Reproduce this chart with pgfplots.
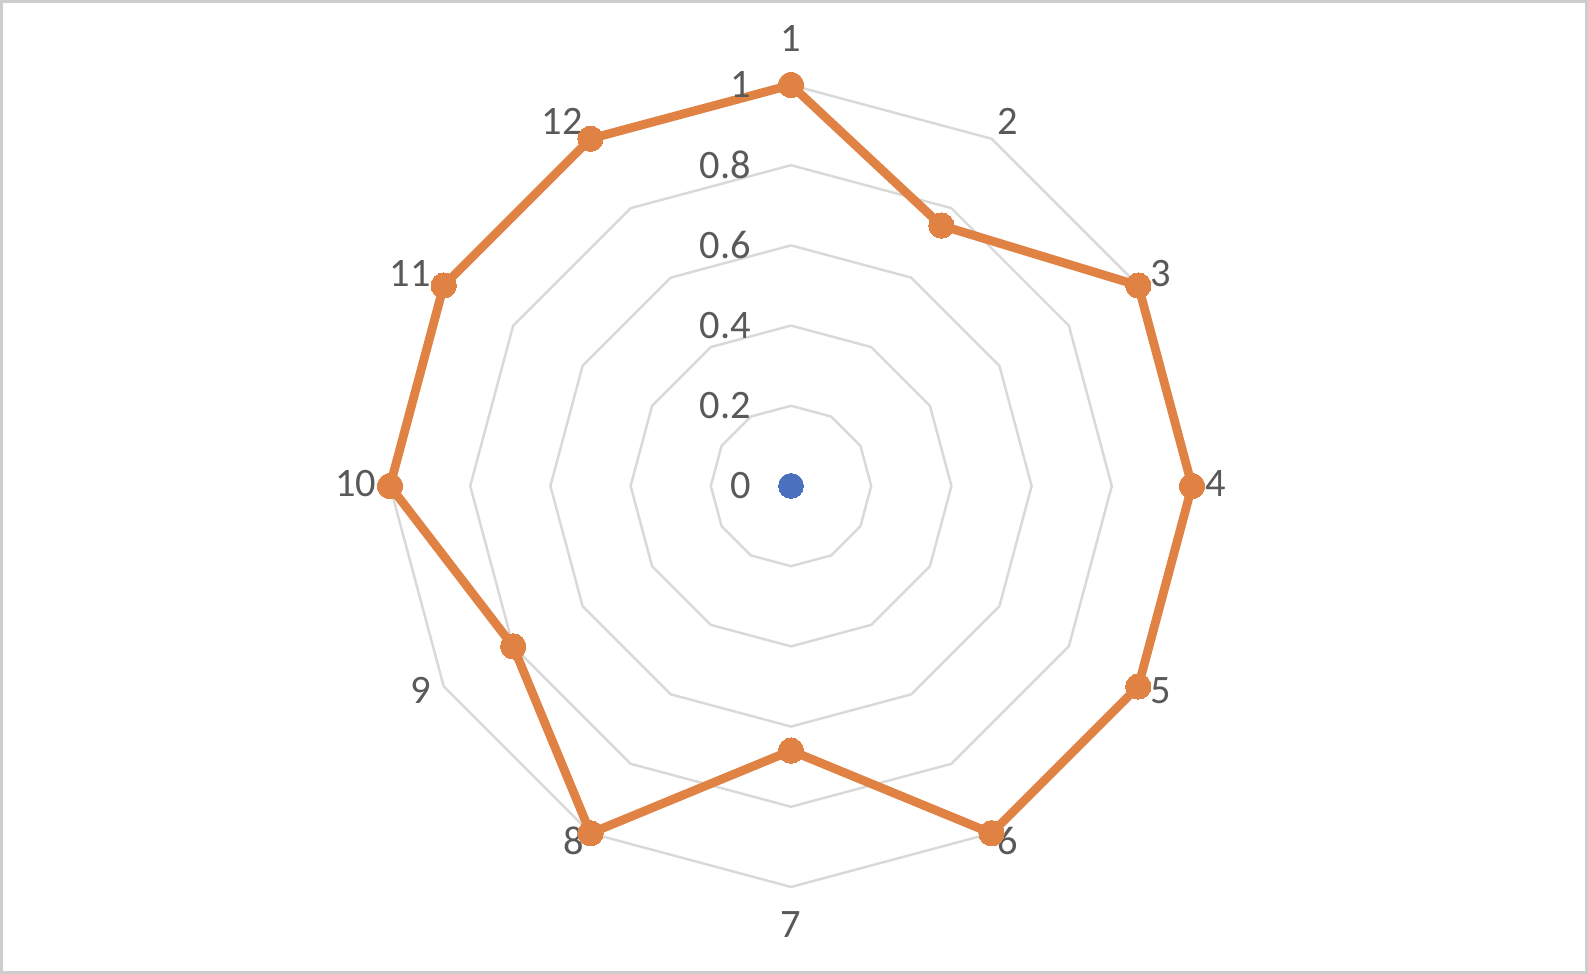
\documentclass[border=0pt]{standalone}
\usepackage{fontspec}
\setmainfont{Carlito}
\usepackage{pgfplots}
\pgfplotsset{compat=1.18}
\definecolor{orangeS}{RGB}{223,130,68}
\definecolor{blueS}{RGB}{74,112,190}
\definecolor{gridc}{RGB}{217,217,217}
\definecolor{txt}{RGB}{89,89,89}
\definecolor{framec}{RGB}{205,205,205}
\newcommand{\ring}[1]{\addplot[gridc, line width=0.7pt, data cs=polar, line join=round] coordinates {(90,#1) (60,#1) (30,#1) (0,#1) (-30,#1) (-60,#1) (-90,#1) (-120,#1) (-150,#1) (180,#1) (150,#1) (120,#1) (90,#1)};}
\begin{document}
\begin{tikzpicture}
\begin{axis}[scale only axis, width=15.88cm, height=9.74cm,
  xmin=-1.9726, xmax=1.9875, ymin=-1.2170, ymax=1.2120,
  hide axis, clip=false]
\draw[framec, line width=0.8pt] ([xshift=0.4pt,yshift=0.4pt]rel axis cs:0,0) rectangle ([xshift=-0.4pt,yshift=-0.4pt]rel axis cs:1,1);
\ring{0.2}
\ring{0.4}
\ring{0.6}
\ring{0.8}
\ring{1.0}
% series 1 (all zero)
\addplot[blueS, line width=2.5pt, data cs=polar, mark=*, mark size=3.5pt, mark options={solid, fill=blueS, draw=blueS, line width=0pt}]
  coordinates {(90,0) (60,0) (30,0) (0,0) (-30,0) (-60,0) (-90,0) (-120,0) (-150,0) (180,0) (150,0) (120,0) (90,0)};
% series 2
\addplot[orangeS, line width=2.5pt, data cs=polar, line join=round, mark=*, mark size=3.6pt, mark options={solid, fill=orangeS, draw=orangeS, line width=0pt}]
  coordinates {(90,1) (60,0.75) (30,1) (0,1) (-30,1) (-60,1) (-90,0.66) (-120,1) (-150,0.8) (180,1) (150,1) (120,1) (90,1)};
% radial axis labels
\begin{scope}[every node/.style={font=\fontsize{11.5}{13}\selectfont, text=txt, anchor=east, inner sep=0pt}]
\node at (axis cs:-0.098,0) {0};
\node at (axis cs:-0.098,0.2) {0.2};
\node at (axis cs:-0.098,0.4) {0.4};
\node at (axis cs:-0.098,0.6) {0.6};
\node at (axis cs:-0.098,0.8) {0.8};
\node at (axis cs:-0.098,1.0) {1};
\end{scope}
% category labels
\begin{scope}[every node/.style={font=\fontsize{11.5}{13}\selectfont, text=txt, inner sep=0pt}]
\node at (axis cs:0,1.116) {1};
\node at (axis cs:0.540,0.909) {2};
\node at (axis cs:0.922,0.530) {3};
\node at (axis cs:1.060,0.005) {4};
\node at (axis cs:0.922,-0.510) {5};
\node at (axis cs:0.540,-0.886) {6};
\node at (axis cs:0,-1.093) {7};
\node at (axis cs:-0.543,-0.886) {8};
\node at (axis cs:-0.924,-0.510) {9};
\node at (axis cs:-1.086,0.005) {10};
\node at (axis cs:-0.949,0.530) {11};
\node at (axis cs:-0.571,0.909) {12};
\end{scope}
\end{axis}
\end{tikzpicture}
\end{document}
